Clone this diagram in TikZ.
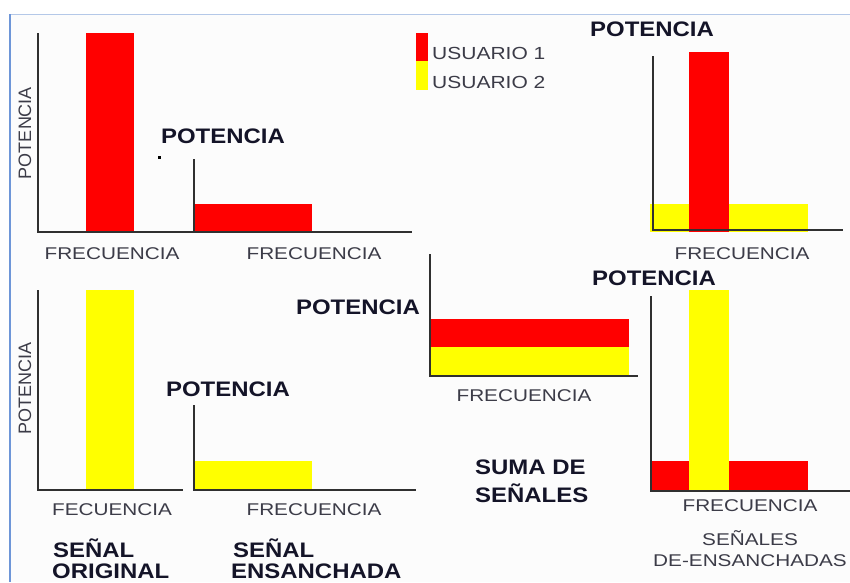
\documentclass[tikz,border=0pt]{standalone}
\usepackage{fontspec}
\setmainfont{Liberation Sans}
\newfontfamily\boldfam[FakeStretch=1.14]{Liberation Sans}
\newfontfamily\regfam[FakeStretch=1.22]{Liberation Sans}
\newfontfamily\usrfam[FakeStretch=1.2]{Liberation Sans}
\definecolor{bgc}{HTML}{FCFCFC}
\definecolor{redc}{HTML}{FF0000}
\definecolor{yelc}{HTML}{FFFF00}
\definecolor{axisc}{HTML}{303030}
\definecolor{frame}{HTML}{B4C8E8}
\definecolor{framel}{HTML}{6E96D8}
\definecolor{btext}{HTML}{141428}
\definecolor{rtext}{HTML}{3C3C48}
\tikzset{
  x=1pt,y=-1pt,
  axisline/.style={draw=axisc,line width=2.4pt},
  redbar/.style={fill=redc},
  yelbar/.style={fill=yelc},
  pot/.style={inner sep=0pt,text=btext,font=\boldfam\bfseries\fontsize{21}{24}\selectfont},
  captext/.style={inner sep=0pt,text=btext,anchor=west,font=\boldfam\bfseries\fontsize{21}{24}\selectfont},
  frq/.style={inner sep=0pt,text=rtext,font=\regfam\fontsize{17}{20}\selectfont},
  usr/.style={inner sep=0pt,text=rtext,anchor=west,font=\usrfam\fontsize{17.5}{20}\selectfont},
  vpot/.style={inner sep=0pt,text=rtext,rotate=90,font=\fontsize{18}{20}\selectfont},
}
\begin{document}
\begin{tikzpicture}
\useasboundingbox (0,0) rectangle (850,582);
\clip (0,0) rectangle (850,582);
\fill[white] (0,0) rectangle (850,582);
\fill[bgc] (10,14) rectangle (850,582);
\fill[frame] (9,14) rectangle (850,15);
\fill[framel] (9,14) rectangle (11,582);
% bars
\fill[redbar] (86,33) rectangle (134,232);
\fill[redbar] (195,204) rectangle (312,232);
\fill[redbar] (416,33) rectangle (428,61);
\fill[yelbar] (416,61) rectangle (428,90);
\fill[yelbar] (650,204) rectangle (808,232);
\fill[redbar] (689,52) rectangle (729,232);
\fill[yelbar] (86,290) rectangle (134,490);
\fill[yelbar] (195,461) rectangle (312,490);
\fill[redbar] (431,319) rectangle (629,347);
\fill[yelbar] (431,347) rectangle (629,375);
\fill[redbar] (652,461) rectangle (808,490);
\fill[yelbar] (689,290) rectangle (729,490);
% axes
\draw[axisline] (38,33) -- (38,232) -- (412,232);
\draw[axisline] (194,159) -- (194,232);
\draw[axisline] (653,56) -- (653,230) -- (843,230);
\draw[axisline] (38,290) -- (38,490) -- (183,490);
\draw[axisline] (194,405) -- (194,490) -- (416,490);
\draw[axisline] (430,254) -- (430,376) -- (638,376);
\draw[axisline] (651,296) -- (651,491) -- (850,491);
\fill[black] (158,156) rectangle (161,159);
% labels
\node[pot] (p1) at (223,136) {POTENCIA};
\node[pot] (p2) at (652,29) {POTENCIA};
\node[pot] (p3) at (654,278) {POTENCIA};
\node[pot] (p4) at (358,307) {POTENCIA};
\node[pot] (p5) at (228,389) {POTENCIA};
\node[frq] (f1) at (112,253.5) {FRECUENCIA};
\node[frq] (f2) at (314,253.5) {FRECUENCIA};
\node[frq] (f3) at (742,253.5) {FRECUENCIA};
\node[frq] (f4) at (524,396) {FRECUENCIA};
\node[frq] (f5) at (750,506) {FRECUENCIA};
\node[frq] (f6) at (314,510) {FRECUENCIA};
\node[frq] (f7) at (112,510) {FECUENCIA};
\node[vpot] (v1) at (25,133) {POTENCIA};
\node[vpot] (v2) at (25,388) {POTENCIA};
\node[usr] (u1) at (432,53) {USUARIO 1};
\node[usr] (u2) at (432,82) {USUARIO 2};
\node[captext] (c1) at (53,548) {SEÑAL};
\node[captext] (c2) at (52,571) {ORIGINAL};
\node[captext] (c3) at (233,548) {SEÑAL};
\node[captext] (c4) at (231,571) {ENSANCHADA};
\node[captext] (c5) at (475,467) {SUMA DE};
\node[captext] (c6) at (475,493) {SEÑALES};
\node[frq] (s1) at (750,538) {SEÑALES};
\node[frq] (s2) at (750,561) {DE-ENSANCHADAS};
\end{tikzpicture}
\end{document}
